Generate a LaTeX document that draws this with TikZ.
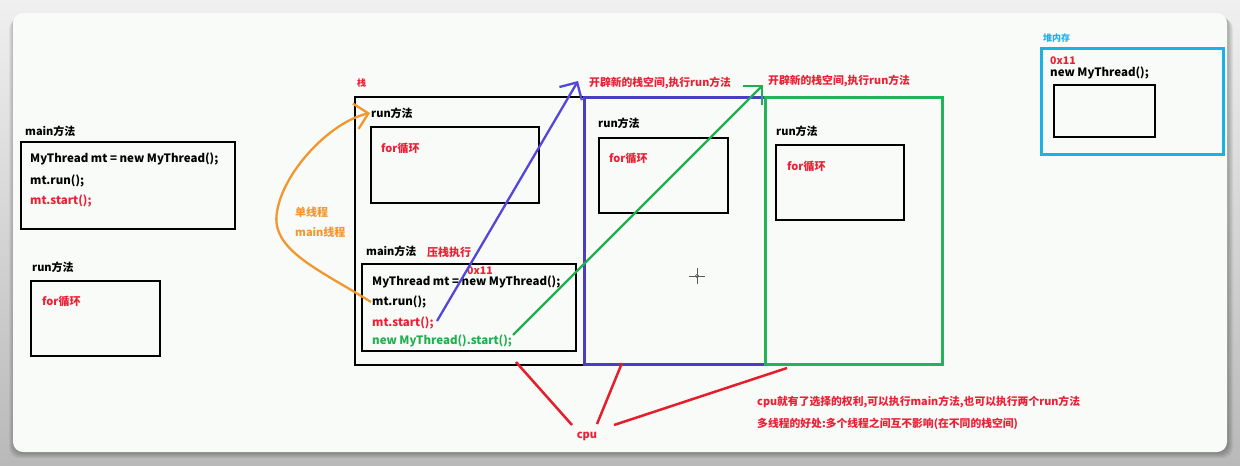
\documentclass[tikz,border=0pt]{standalone}
\usepackage{fontspec}
\setmainfont{Noto Sans CJK SC}
\usetikzlibrary{arrows.meta}
\definecolor{cardbg}{HTML}{F8FBF7}
\definecolor{txtred}{HTML}{EC2035}
\definecolor{txtgreen}{HTML}{1FAF4E}
\definecolor{bluebox}{HTML}{4A3EC4}
\definecolor{bluearrow}{HTML}{5545D8}
\definecolor{greenbox}{HTML}{22B456}
\definecolor{orangec}{HTML}{F2962E}
\definecolor{cyanc}{HTML}{1AB2E6}
\definecolor{linered}{HTML}{E41E2A}
\tikzset{
  lbl/.style={anchor=west, inner sep=0pt, font=\fontsize{11}{13}\selectfont\bfseries},
  note/.style={anchor=west, inner sep=0pt, text=txtred, font=\fontsize{10.8}{12}\selectfont\bfseries},
  code/.style={anchor=west, inner sep=0pt, font=\fontsize{11.5}{13}\selectfont\bfseries},
  small/.style={anchor=west, inner sep=0pt, font=\fontsize{9}{11}\selectfont\bfseries},
  blackbox/.style={draw=black, line width=2.2pt, anchor=north west, inner sep=0pt},
  colbox/.style={line width=2.5pt, anchor=north west, inner sep=0pt},
  barb/.style={-{Straight Barb[length=13pt,width=26pt,line width=2.3pt]}, line width=2.3pt},
  cpuline/.style={draw=linered, line width=2.5pt}
}
\begin{document}
\begin{tikzpicture}[x=1pt,y=-1pt]
\useasboundingbox (0,0) rectangle (1240,466);
% background and card
\shade[top color=gray!12, bottom color=gray!55] (0,0) rectangle (1240,466);
\foreach \i in {1,...,6}{
  \fill[black, opacity=0.05, rounded corners=10pt] (13-\i+2,13+\i) rectangle (1227+\i,452+\i);
}
\fill[cardbg, rounded corners=10pt] (13,13) rectangle (1227,452);

% ---- left: main method box
\node[lbl] (mainLbl) at (25,131) {main方法};
\node[blackbox, minimum width=214pt, minimum height=87pt] (mainL) at (20,141) {};
\node[code] (c1) at (30,159) {MyThread mt = new MyThread();};
\node[code] (c2) at (30,181) {mt.run();};
\node[code, text=txtred] (c3) at (30,201) {mt.start();};
\node[lbl] (runLbl) at (32,267) {run方法};
\node[blackbox, minimum width=129pt, minimum height=75pt] (runL) at (30,280) {};
\node[lbl, text=txtred] (forL) at (42,301) {for循环};

% ---- stack
\node[small, text=txtred] (zhan) at (357,83) {栈};
\node[blackbox, minimum width=229pt, minimum height=268pt] (stack) at (354,96) {};
\node[lbl] (sRunLbl) at (371,113) {run方法};
\node[blackbox, minimum width=168pt, minimum height=76pt] (sRun) at (370,126) {};
\node[lbl, text=txtred] (sFor) at (381,148) {for循环};
\node[lbl] (sMainLbl) at (366,251) {main方法};
\node[lbl, text=txtred] (push) at (427,252) {压栈执行};
\node[blackbox, minimum width=214pt, minimum height=87pt] (sMain) at (361,263) {};
\node[code] (s1) at (372,282) {MyThread mt = new MyThread();};
\node[code, text=txtred, font=\fontsize{10.5}{12}\selectfont\bfseries] (addr) at (467,271) {0x11};
\node[code] (s2) at (372,302) {mt.run();};
\node[code, text=txtred] (s3) at (372,323) {mt.start();};
\node[code, text=txtgreen] (s4) at (372,341) {new MyThread().start();};

% ---- blue thread stack
\node[colbox, draw=bluebox, minimum width=181pt, minimum height=267pt] (blueBox) at (583,96) {};
\node[lbl] (bRunLbl) at (598,123) {run方法};
\node[blackbox, minimum width=129pt, minimum height=75pt] (bRun) at (598,137) {};
\node[lbl, text=txtred] (bFor) at (609,158) {for循环};
\node[note] (newStack1) at (589,83) {开辟新的栈空间,执行run方法};

% ---- green thread stack
\node[colbox, draw=greenbox, minimum width=177pt, minimum height=267pt] (greenBox) at (764,96) {};
\node[lbl] (gRunLbl) at (776,131) {run方法};
\node[blackbox, minimum width=128pt, minimum height=75pt] (gRun) at (775,144) {};
\node[lbl, text=txtred] (gFor) at (787,166) {for循环};
\node[note] (newStack2) at (768,81) {开辟新的栈空间,执行run方法};

% cursor crosshair
\coordinate (cur) at (697,276);
\draw[gray!70!black, line width=0.6pt] ([xshift=-8pt]cur) -- ([xshift=8pt]cur) ([yshift=-8pt]cur) -- ([yshift=8pt]cur);
\draw[gray!70!black, line width=0.5pt] (cur) circle (1.8pt);

% ---- heap
\node[small, text=cyanc] (heapLbl) at (1043,38) {堆内存};
\node[colbox, draw=cyanc, minimum width=182pt, minimum height=106pt] (heap) at (1040,47) {};
\node[code, text=txtred, font=\fontsize{10.5}{12}\selectfont\bfseries] (hAddr) at (1050,61) {0x11};
\node[code] (hNew) at (1050,73) {new MyThread();};
\node[blackbox, minimum width=101pt, minimum height=52pt] (hIn) at (1053,84) {};

% ---- orange single thread arrow
\node[lbl, text=orangec] (single) at (295,212) {单线程};
\node[lbl, text=orangec] (mainT) at (295,232) {main线程};
\coordinate (oStart) at (371,302);
\coordinate (oTip) at (370,113);
\draw[barb, draw=orangec] (oStart) .. controls (320,270) and (270,250) .. (277,212) .. controls (283,172) and (330,122) .. (oTip);

% ---- thread arrows
\coordinate (bStart) at (437,321);
\coordinate (bTip) at (578,81);
\draw[barb, draw=bluearrow] (bStart) -- (bTip);
\coordinate (gStart) at (513,335);
\coordinate (gTip) at (763,85);
\draw[barb, draw=txtgreen] (gStart) -- (gTip);

% ---- cpu
\node[lbl, text=txtred, anchor=center] (cpu) at (587,436) {cpu};
\coordinate (cpu1) at (572,425);
\coordinate (cpu2) at (597,424);
\coordinate (cpu3) at (614,425);
\coordinate (t1) at (516,362);
\coordinate (t2) at (622,363);
\coordinate (t3) at (787,368);
\draw[cpuline] (cpu1) -- (t1);
\draw[cpuline] (cpu2) -- (t2);
\draw[cpuline] (cpu3) -- (t3);
\node[note] (note1) at (757,402) {cpu就有了选择的权利,可以执行main方法,也可以执行两个run方法};
\node[note] (note2) at (757,424) {多线程的好处:多个线程之间互不影响(在不同的栈空间)};
\end{tikzpicture}
\end{document}
